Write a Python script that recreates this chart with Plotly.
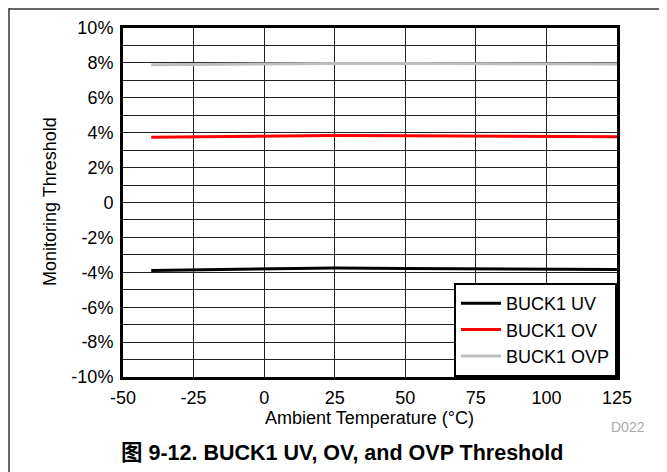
import plotly.graph_objects as go

temps = [-40, -20, 0, 25, 50, 75, 100, 125]
buck1_uv = [-3.89, -3.85, -3.80, -3.76, -3.78, -3.80, -3.82, -3.84]
buck1_ov = [3.74, 3.77, 3.80, 3.84, 3.82, 3.80, 3.79, 3.77]
buck1_ovp = [7.90, 7.93, 7.95, 7.97, 7.96, 7.95, 7.94, 7.93]

series_names = ["BUCK1 UV", "BUCK1 OV", "BUCK1 OVP"]
series_vals = [buck1_uv, buck1_ov, buck1_ovp]
series_colors = ["#000000", "#FF0000", "#BEBEBE"]

x_tickvals = [-50, -25, 0, 25, 50, 75, 100, 125]
x_ticktext = ["-50", "-25", "0", "25", "50", "75", "100", "125"]
y_tickvals = list(range(-10, 11))
y_ticktext = ["-10%", "", "-8%", "", "-6%", "", "-4%", "", "-2%", "", "0",
              "", "2%", "", "4%", "", "6%", "", "8%", "", "10%"]

FONT = "Arial, 'Liberation Sans', 'Noto Sans CJK SC', sans-serif"
FS = 18

fig = go.Figure()
for name, vals, col in zip(series_names, series_vals, series_colors):
    fig.add_trace(go.Scatter(x=temps, y=vals, mode="lines", name=name,
                             line=dict(color=col, width=3)))

# page body has an 8px margin, so the figure is drawn 8px smaller/offset
OFF = 8
W, H = 667 - OFF, 472 - OFF
L, T = 123 - OFF, 28 - OFF
R = W - (617 - OFF)
B = H - (377 - OFF)
pw, ph = W - L - R, H - T - B

def px(xp):
    return (xp - OFF - L) / pw

def py(yp):
    return (H - B - (yp - OFF)) / ph

fig.update_layout(
    width=W, height=H,
    margin=dict(l=L, r=R, t=T, b=B, pad=0, autoexpand=False),
    paper_bgcolor="white", plot_bgcolor="white",
    font=dict(family=FONT, size=FS, color="black"),
    showlegend=True,
    legend=dict(x=1, y=0, xanchor="right", yanchor="bottom",
                bgcolor="white", bordercolor="black", borderwidth=2,
                font=dict(size=FS), itemwidth=40, tracegroupgap=0),
    xaxis=dict(range=[-50, 125], tickvals=x_tickvals, ticktext=x_ticktext,
               ticks="", showgrid=True, automargin=False,
               gridcolor="#222222", gridwidth=1, zeroline=False,
               showline=True, linecolor="black", linewidth=3, mirror=True,
               ticklabelstandoff=2, tickfont=dict(size=FS)),
    yaxis=dict(range=[-10, 10], tickvals=y_tickvals, ticktext=y_ticktext,
               ticks="", showgrid=True, automargin=False,
               gridcolor="#222222", gridwidth=1,
               zeroline=False, showline=True, linecolor="black", linewidth=3,
               mirror=True, ticklabelstandoff=3, tickfont=dict(size=FS)),
    annotations=[
        dict(text="Ambient Temperature (°C)", x=px(369), y=py(418),
             xref="paper", yref="paper", showarrow=False,
             xanchor="center", yanchor="middle", font=dict(size=FS)),
        dict(text="Monitoring Threshold", x=px(50), y=py(202),
             xref="paper", yref="paper", showarrow=False, textangle=-90,
             xanchor="center", yanchor="middle", font=dict(size=FS)),
        dict(text="<b>图 9-12. BUCK1 UV, OV, and OVP Threshold</b>",
             x=px(341.5), y=py(453), xref="paper", yref="paper",
             showarrow=False, xanchor="center", yanchor="middle",
             font=dict(size=21.5)),
        dict(text="D022", x=px(628), y=py(427), xref="paper", yref="paper",
             showarrow=False, xanchor="center", yanchor="middle",
             font=dict(size=14, color="#AAAAAA")),
    ],
    shapes=[
        dict(type="line", xref="paper", yref="paper", x0=px(9), x1=px(9),
             y0=py(480), y1=py(OFF), line=dict(color="#333333", width=1.5)),
        dict(type="line", xref="paper", yref="paper", x0=px(9), x1=px(680),
             y0=py(9), y1=py(9), line=dict(color="#333333", width=1.5)),
    ],
)

fig.write_html("out.html")
